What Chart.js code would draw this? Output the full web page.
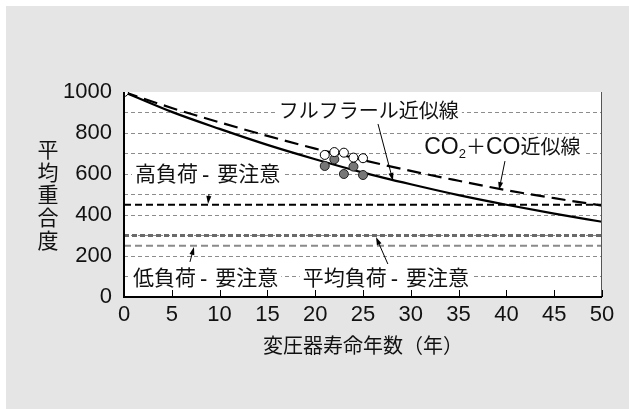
<!DOCTYPE html>
<html>
<head>
<meta charset="utf-8">
<script src="https://cdn.jsdelivr.net/npm/chart.js@4.4.1/dist/chart.umd.min.js"></script>
<style>
html, body { margin: 0; padding: 0; background: #fff; }
canvas { display: block; }
</style>
</head>
<body>
<canvas id="chart" width="629" height="409"></canvas>
<script>
"use strict";

// values
var years = [0, 5, 10, 15, 20, 25, 30, 35, 40, 45, 50];
var furfuralFit = [1000, 903, 820, 742, 672, 607, 550, 497, 450, 407, 367];
var gasFit = [1000, 922, 852, 786, 724, 668, 615, 567, 521, 482, 446];
var openYears = [0, 21, 22, 23, 24, 25];
var openDp = [1000, 693, 707, 704, 680, 677];
var filledYears = [21, 22, 23, 24, 25];
var filledDp = [639, 672, 600, 636, 595];
var highLoadLevel = [450, 450];
var averageLoadLevel = [300, 300];
var lowLoadLevel = [250, 250];
var levelYears = [0, 50];
var yTickLabels = [0, 200, 400, 600, 800, 1000];

var CJK = "'Noto Sans CJK JP', sans-serif";
var LATIN = "'Liberation Sans', Arial, sans-serif";

function points(xs, ys) {
    return xs.map(function(x, i) { return {x: x, y: ys[i]}; });
}

// caution labels are set a little larger, with a short hyphen
var big = '21px ' + CJK;
var dash = {t: '-', font: '22px ' + LATIN, before: 4, after: 8, dy: 1};

// labels and arrows, placed in data units
var notes = [
    {x: 16.2, y: 873, parts: [{t: 'フルフラール近似線'}]},
    {x: 31.4, y: 700, parts: [
        {t: 'CO', font: '23px ' + LATIN},
        {t: '2', font: '13px ' + LATIN, dy: 4},
        {t: '＋'},
        {t: 'CO', font: '23px ' + LATIN},
        {t: '近似線'}
    ]},
    {x: 1.15, y: 568, parts: [{t: '高負荷', font: big}, dash, {t: '要注意', font: big}]},
    {x: 0.94, y: 58, parts: [{t: '低負荷', font: big}, dash, {t: '要注意', font: big}]},
    {x: 18.7, y: 58, parts: [{t: '平均負荷', font: big}, dash, {t: '要注意', font: big}]}
];
var arrows = [
    [26.57, 844, 28.14, 566],
    [39.85, 663, 39.23, 522],
    [8.89, 502, 8.79, 454],
    [6.9, 171, 7.32, 244],
    [27.6, 161, 26.36, 293]
];

function partWidth(ctx, p) {
    ctx.font = p.font || ('20px ' + CJK);
    return (p.before || 0) + ctx.measureText(p.t).width + (p.after || 0);
}

var decor = {
    id: 'decor',
    beforeDraw: function(chart) {
        var ctx = chart.ctx, a = chart.chartArea;
        ctx.save();
        ctx.fillStyle = '#fff';
        ctx.fillRect(0, 0, chart.width, chart.height);
        ctx.fillStyle = '#e5e5e5';
        ctx.fillRect(6, 6, chart.width - 6, chart.height - 6);
        ctx.fillStyle = '#fff';
        ctx.fillRect(a.left, a.top, a.right - a.left, a.bottom - a.top);
        ctx.restore();
    },
    beforeDatasetsDraw: function(chart) {
        var ctx = chart.ctx, xs = chart.scales.x, ys = chart.scales.y;
        ctx.save();
        ctx.textBaseline = 'alphabetic';
        ctx.textAlign = 'left';
        notes.forEach(function(n) {
            var x0 = xs.getPixelForValue(n.x), base = ys.getPixelForValue(n.y);
            var w = 0;
            n.parts.forEach(function(p) { w += partWidth(ctx, p); });
            ctx.fillStyle = '#fff';
            ctx.fillRect(x0 - 3, base - 19, w + 6, 24);
            ctx.fillStyle = '#111';
            var x = x0;
            n.parts.forEach(function(p) {
                var pw = partWidth(ctx, p);
                ctx.fillText(p.t, x + (p.before || 0), base + (p.dy || 0));
                x += pw;
            });
        });
        ctx.restore();
    },
    afterDatasetsDraw: function(chart) {
        var ctx = chart.ctx, a = chart.chartArea, xs = chart.scales.x, ys = chart.scales.y;
        ctx.save();
        // arrows
        ctx.strokeStyle = '#000';
        ctx.fillStyle = '#000';
        ctx.lineWidth = 1;
        arrows.forEach(function(r) {
            var x1 = xs.getPixelForValue(r[0]), y1 = ys.getPixelForValue(r[1]);
            var x2 = xs.getPixelForValue(r[2]), y2 = ys.getPixelForValue(r[3]);
            var c = Math.cos(Math.atan2(y2 - y1, x2 - x1)), s = Math.sin(Math.atan2(y2 - y1, x2 - x1));
            ctx.beginPath();
            ctx.moveTo(x1, y1);
            ctx.lineTo(x2 - 6 * c, y2 - 6 * s);
            ctx.stroke();
            ctx.beginPath();
            ctx.moveTo(x2, y2);
            ctx.lineTo(x2 - 8 * c + 2.5 * s, y2 - 8 * s - 2.5 * c);
            ctx.lineTo(x2 - 8 * c - 2.5 * s, y2 - 8 * s + 2.5 * c);
            ctx.closePath();
            ctx.fill();
        });
        // frame and inner ticks
        ctx.strokeStyle = '#555';
        ctx.lineWidth = 1;
        ctx.beginPath();
        ctx.moveTo(a.right - 0.5, a.top);
        ctx.lineTo(a.right - 0.5, a.bottom);
        ctx.stroke();
        ctx.strokeStyle = '#000';
        ctx.lineWidth = 2;
        ctx.beginPath();
        ctx.moveTo(a.left, a.top);
        ctx.lineTo(a.left, a.bottom);
        ctx.lineTo(a.right, a.bottom);
        ctx.stroke();
        ctx.lineWidth = 1;
        xs.ticks.forEach(function(t) {
            var px = Math.round(xs.getPixelForValue(t.value)) + 0.5;
            ctx.beginPath();
            ctx.moveTo(px, a.bottom);
            ctx.lineTo(px, a.bottom - 7);
            ctx.stroke();
        });
        // stacked y title
        ctx.fillStyle = '#111';
        ctx.font = '21px ' + CJK;
        ctx.textAlign = 'center';
        ctx.textBaseline = 'middle';
        '平均重合度'.split('').forEach(function(ch, i) {
            ctx.fillText(ch, 48, 149 + i * 22.7);
        });
        ctx.restore();
    }
};

var ctx = document.getElementById('chart').getContext('2d');
var chart = new Chart(ctx, {
    type: 'line',
    data: {
        datasets: [
            {
                type: 'scatter', data: points(openYears, openDp),
                backgroundColor: '#fff', borderColor: '#000', borderWidth: 1,
                pointRadius: 4.5
            },
            {
                type: 'scatter', data: points(filledYears, filledDp),
                backgroundColor: '#777', borderColor: '#222', borderWidth: 1,
                pointRadius: 4.5
            },
            {
                data: points(years, furfuralFit), borderColor: '#000', borderWidth: 2.2,
                pointRadius: 0, cubicInterpolationMode: 'monotone'
            },
            {
                data: points(years, gasFit), borderColor: '#000', borderWidth: 2.2,
                borderDash: [14, 7], pointRadius: 0, cubicInterpolationMode: 'monotone'
            },
            {
                data: points(levelYears, highLoadLevel), borderColor: '#000', borderWidth: 2,
                borderDash: [7, 4], pointRadius: 0
            },
            {
                data: points(levelYears, averageLoadLevel), borderColor: '#6a6a6a', borderWidth: 3,
                borderDash: [5, 3], pointRadius: 0
            },
            {
                data: points(levelYears, lowLoadLevel), borderColor: '#8a8a8a', borderWidth: 2,
                borderDash: [7, 4], pointRadius: 0
            }
        ]
    },
    options: {
        responsive: false,
        animation: false,
        devicePixelRatio: 1,
        layout: {padding: {top: 92, right: 27, left: 0, bottom: 0}},
        plugins: {legend: {display: false}, tooltip: {enabled: false}},
        scales: {
            x: {
                type: 'linear', min: 0, max: 50,
                ticks: {stepSize: 5, color: '#111', padding: 5, font: {family: LATIN, size: 22}},
                grid: {display: false, drawTicks: false},
                border: {display: false},
                title: {
                    display: true, text: '変圧器寿命年数（年）', color: '#111',
                    font: {family: CJK, size: 20}, padding: {top: 0, bottom: 52}
                },
                afterFit: function(scale) { scale.height = 112; }
            },
            y: {
                type: 'linear', min: 0, max: 1000,
                ticks: {
                    stepSize: 100, autoSkip: false, color: '#111', padding: 12,
                    font: {family: LATIN, size: 22},
                    callback: function(v) { return yTickLabels.indexOf(v) >= 0 ? String(v) : ''; }
                },
                grid: {
                    drawTicks: false, lineWidth: 1,
                    color: function(c) {
                        var v = c.tick && c.tick.value;
                        return (v === 0 || v === 1000) ? 'rgba(0,0,0,0)' : '#8c8c8c';
                    }
                },
                border: {display: false, dash: [4, 3]},
                afterFit: function(scale) { scale.width = 124; }
            }
        }
    },
    plugins: [decor]
});
</script>
</body>
</html>
